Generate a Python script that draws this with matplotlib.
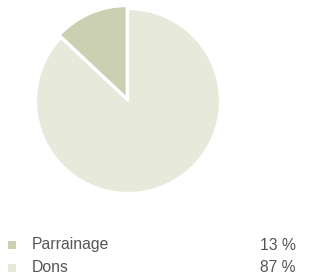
import matplotlib
matplotlib.use('Agg')
import matplotlib.pyplot as plt

# Data
labels = ['Parrainage', 'Dons']
values = [13, 87]
colors = ['#CBD0B3', '#E7E9DA']

W, H = 311, 277
fig = plt.figure(figsize=(W/100, H/100), dpi=100)

# pie axes, centre ~ (128, 101) px, radius ~92 px
r = 92
cx, cy = 128, 101
box = 110
ax = fig.add_axes([(cx - box)/W, 1 - (cy + box)/H, 2*box/W, 2*box/H])
ax.pie(values, colors=colors, startangle=90, counterclock=True,
	explode=[0.035, 0], radius=1,
	wedgeprops=dict(edgecolor='white', linewidth=1.6))
lim = box/r
ax.set_xlim(-lim, lim)
ax.set_ylim(-lim, lim)
ax.set_aspect('equal')
ax.axis('off')

# legend drawn by hand
lax = fig.add_axes([0, 0, 1, 1])
lax.set_xlim(0, W)
lax.set_ylim(H, 0)
lax.axis('off')
rows_y = [245, 268]
for i in range(len(labels)):
	y = rows_y[i]
	lax.plot(12, y, marker='s', markersize=6, color=colors[i], markeredgewidth=0)
	lax.text(32, y, labels[i], fontsize=11.3, color='#555555', va='center', ha='left',
		family='Liberation Sans')
	lax.text(296, y, str(values[i]) + ' %', fontsize=11.3, color='#555555', va='center',
		ha='right', family='Liberation Sans')

fig.savefig('out.png', dpi=100)
